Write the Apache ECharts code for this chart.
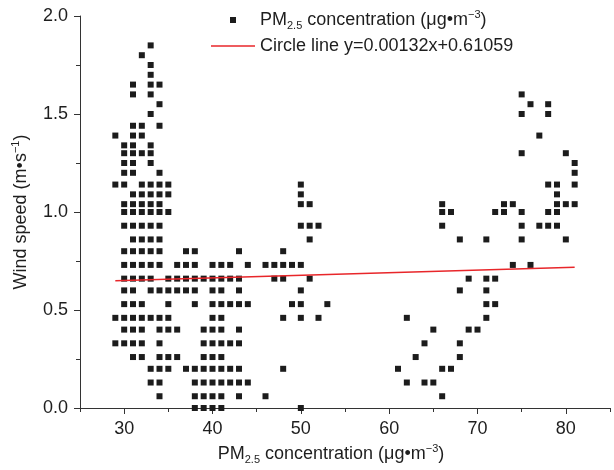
<!DOCTYPE html>
<html>
<head>
<meta charset="utf-8">
<script src="https://cdn.jsdelivr.net/npm/echarts@6/dist/echarts.min.js"></script>
<style>
  html, body { margin: 0; padding: 0; background: #fff; }
  #chart { width: 614px; height: 470px; }
</style>
</head>
<body>
<div id="chart"></div>
<script>
// wind speed levels (m/s), one row of observations per level
const windLevels = [
  0, 0.06, 0.13, 0.20, 0.26, 0.33, 0.40, 0.46, 0.53, 0.60, 0.66, 0.73, 0.80,
  0.86, 0.93, 1.00, 1.04, 1.09, 1.14, 1.20, 1.25, 1.30, 1.34, 1.39, 1.44,
  1.50, 1.55, 1.60, 1.65, 1.70, 1.75, 1.80, 1.85
];
// PM2.5 concentrations seen at each wind level above
const pmAtLevel = [
  [38, 39, 40, 41, 50],
  [34, 38, 39, 40, 41, 43, 46, 66],
  [33, 34, 38, 39, 40, 41, 42, 43, 44, 62, 64, 65],
  [33, 34, 35, 37, 38, 39, 40, 41, 42, 43, 48, 61, 66, 67],
  [31, 32, 34, 35, 36, 39, 40, 41, 63, 68],
  [29, 30, 31, 32, 34, 39, 40, 41, 42, 43, 64, 68],
  [30, 31, 32, 34, 35, 36, 39, 40, 41, 43, 65, 69, 70],
  [29, 30, 31, 32, 33, 34, 35, 40, 41, 48, 50, 52, 62, 71],
  [30, 31, 32, 35, 38, 40, 41, 42, 43, 44, 49, 50, 53, 71, 72],
  [30, 31, 33, 34, 35, 36, 37, 38, 40, 41, 43, 50, 68, 71],
  [30, 31, 32, 33, 35, 36, 37, 38, 39, 40, 41, 42, 43, 47, 48, 51, 69, 71, 72],
  [30, 31, 32, 33, 34, 36, 37, 38, 40, 41, 42, 44, 46, 47, 48, 49, 50, 74, 76],
  [30, 31, 32, 33, 34, 37, 38, 43, 48],
  [31, 32, 33, 34, 51, 68, 71, 75, 80],
  [30, 31, 32, 33, 34, 50, 51, 52, 66, 75, 77, 78, 79],
  [30, 31, 32, 33, 34, 35, 66, 67, 72, 73, 75, 78, 79],
  [30, 31, 32, 33, 34, 50, 51, 66, 73, 74, 79, 80, 81],
  [31, 32, 33, 34, 35, 50, 79],
  [29, 30, 32, 33, 34, 35, 50, 78, 79, 81],
  [30, 31, 34, 81],
  [30, 31, 33, 81],
  [30, 31, 32, 33, 75, 80],
  [30, 31, 33],
  [29, 31, 32, 77],
  [31, 32, 34],
  [33, 75, 78],
  [34, 76, 78],
  [31, 33, 75],
  [31, 33, 34],
  [33],
  [33],
  [32],
  [33]
];
const xTicks = [30, 40, 50, 60, 70, 80];
// fitted line from the legend: y = 0.00132x + 0.61059
const fitSlope = 0.00132;
const fitIntercept = 0.61059;
const fitRange = [29, 81];

const font = '"Liberation Sans", Arial, sans-serif';
const txt = '#1e1e1e';
const axisColor = '#333';
const red = '#e8262a';

let points = [];
windLevels.forEach((w, i) => {
  pmAtLevel[i].forEach((pm) => points.push([pm, w]));
});
const fitLine = fitRange.map((x) => [x, fitSlope * x + fitIntercept]);

const rich = {
  a: { fontSize: 18, fontFamily: font, color: txt, lineHeight: 22 },
  sub: { fontSize: 11, fontFamily: font, color: txt, lineHeight: 11, verticalAlign: 'bottom' },
  sup: { fontSize: 11, fontFamily: font, color: txt, lineHeight: 11, verticalAlign: 'top' }
};
const pmLabel = '{a|PM}{sub|2.5}{a| concentration (μg•m}{sup|−3}{a|)}';

const chart = echarts.init(document.getElementById('chart'));
chart.setOption({
  animation: false,
  textStyle: { fontFamily: font },
  grid: { left: 80, right: 4, top: 16, bottom: 62 },
  legend: {
    orient: 'vertical',
    left: 206,
    top: 4,
    itemWidth: 44,
    itemHeight: 6,
    itemGap: 6,
    data: [
      { name: 'pm', icon: 'path://M0,0H10V10H0Z', itemStyle: { color: '#1c1c1c' } },
      { name: 'fit', icon: 'path://M0,0H44V1.5H0Z', itemStyle: { color: red } }
    ],
    formatter: function (name) {
      return name === 'pm' ? pmLabel : '{a|Circle line y=0.00132x+0.61059}';
    },
    textStyle: { fontSize: 18, color: txt, rich: rich }
  },
  xAxis: [
    {
      type: 'value',
      min: 25,
      max: 85,
      name: pmLabel,
      nameLocation: 'middle',
      nameGap: 35,
      nameTextStyle: { rich: rich, padding: [0, 28, 0, 0] },
      axisLine: { lineStyle: { color: axisColor, width: 1 } },
      axisTick: { customValues: xTicks, length: 6, lineStyle: { color: axisColor } },
      axisLabel: { customValues: xTicks, fontSize: 18, color: txt, margin: 12 },
      splitLine: { show: false }
    },
    {
      // short ticks every 5 units
      type: 'value',
      min: 25,
      max: 85,
      interval: 5,
      position: 'bottom',
      axisLine: { show: false },
      axisTick: { length: 4, lineStyle: { color: axisColor } },
      axisLabel: { show: false },
      splitLine: { show: false }
    }
  ],
  yAxis: {
    type: 'value',
    min: 0,
    max: 2,
    interval: 0.5,
    name: '{a|Wind speed (m•s}{sup|−1}{a|)}',
    nameLocation: 'middle',
    nameGap: 48,
    nameTextStyle: { rich: rich },
    axisLine: { show: true, lineStyle: { color: axisColor, width: 1 } },
    axisTick: { show: true, length: 6, lineStyle: { color: axisColor } },
    minorTick: { show: true, splitNumber: 2, length: 4, lineStyle: { color: axisColor } },
    axisLabel: {
      fontSize: 18,
      color: txt,
      margin: 12,
      formatter: (v) => v.toFixed(1)
    },
    splitLine: { show: false }
  },
  series: [
    {
      name: 'pm',
      type: 'scatter',
      symbol: 'rect',
      symbolSize: 6,
      itemStyle: { color: '#1c1c1c', opacity: 1 },
      data: points
    },
    {
      name: 'fit',
      type: 'line',
      symbol: 'none',
      z: 3,
      lineStyle: { color: red, width: 1.5 },
      itemStyle: { color: red },
      data: fitLine
    }
  ]
});
</script>
</body>
</html>
